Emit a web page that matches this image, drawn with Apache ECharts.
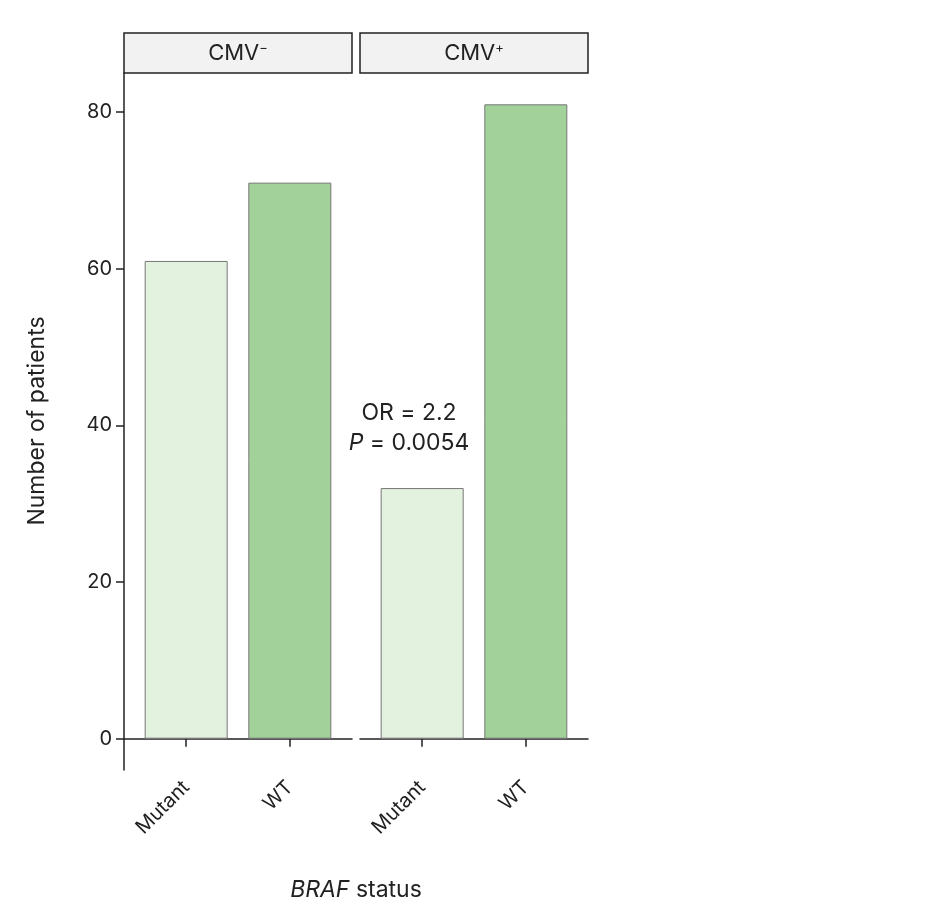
<!DOCTYPE html>
<html><head><meta charset="utf-8">
<script src="https://cdn.jsdelivr.net/npm/echarts@6/dist/echarts.min.js"></script>
<style>html,body{margin:0;background:#fff}#vis{width:925px;height:901px}</style>
</head><body><div id="vis"></div>
<script>
const categories = ["Mutant", "WT"];
const cmvNeg = [61, 71];
const cmvPos = [32, 81];
const yTicks = [0, 20, 40, 60, 80];
const colors = ["#e3f1df", "#a2d29a"];

const chart = echarts.init(document.getElementById("vis"));
const font = "Inter";

function bars(vals, idx) {
  return {
    type: "bar", xAxisIndex: idx, yAxisIndex: idx, barWidth: 83,
    data: vals.map((v, i) => ({ value: [i + 1, v], itemStyle: { color: colors[i] } })),
    itemStyle: { borderColor: "#777", borderWidth: 1 }
  };
}
function xAxis(idx) {
  return {
    type: "value", gridIndex: idx, min: 0.4, max: 2.6,
    axisLine: { show: true, lineStyle: { color: "#222", width: 1.5 } },
    axisTick: { show: true, length: 8, customValues: [1, 2], lineStyle: { color: "#222", width: 1.5 } },
    axisLabel: { customValues: [1, 2], rotate: 45, fontFamily: font, fontSize: 20, color: "#222", margin: 14,
      formatter: v => categories[Math.round(v) - 1] },
    splitLine: { show: false }
  };
}
function yAxis(idx) {
  return {
    type: "value", gridIndex: idx, min: -4, max: 85,
    axisLine: { show: idx === 0, lineStyle: { color: "#222", width: 1.5 } },
    axisTick: { show: idx === 0, length: 8, customValues: yTicks, lineStyle: { color: "#222", width: 1.5 } },
    axisLabel: { show: idx === 0, customValues: yTicks, fontFamily: font, fontSize: 20, color: "#222", margin: 12 },
    splitLine: { show: false }
  };
}
function strip(x, label, sup) {
  return [
    { type: "rect", shape: { x: x, y: 33, width: 228, height: 40 },
      style: { fill: "#f2f2f2", stroke: "#222", lineWidth: 1.5 } },
    { type: "text", x: x + 114, y: 53,
      style: { text: "{a|" + label + "}{s|" + sup + "}", align: "center", verticalAlign: "middle",
        rich: { a: { fontFamily: font, fontSize: 22, fill: "#222" },
                s: { fontFamily: font, fontSize: 13, fill: "#222", verticalAlign: "top", padding: [0, 0, 10, 0] } } } }
  ];
}

chart.setOption({
  animation: false,
  grid: [
    { left: 124, top: 73, width: 228, height: 697 },
    { left: 360, top: 73, width: 228, height: 697 }
  ],
  xAxis: [xAxis(0), xAxis(1)],
  yAxis: [yAxis(0), yAxis(1)],
  series: [bars(cmvNeg, 0), bars(cmvPos, 1)],
  graphic: [
    ...strip(124, "CMV", "−"),
    ...strip(360, "CMV", "+"),
    { type: "text", x: 409, y: 413,
      style: { text: "OR = 2.2", align: "center", verticalAlign: "middle", fontFamily: font, fontSize: 23, fill: "#222" } },
    { type: "text", x: 409, y: 443,
      style: { text: "{i|P} = 0.0054", align: "center", verticalAlign: "middle",
        rich: { i: { fontFamily: font, fontSize: 23, fontStyle: "italic", fill: "#222" } },
        fontFamily: font, fontSize: 23, fill: "#222" } },
    { type: "text", x: 37, y: 421, rotation: Math.PI / 2,
      style: { text: "Number of patients", align: "center", verticalAlign: "middle", fontFamily: font, fontSize: 23, fill: "#222" } },
    { type: "text", x: 356, y: 890,
      style: { text: "{i|BRAF} status", align: "center", verticalAlign: "middle",
        rich: { i: { fontFamily: font, fontSize: 23, fontStyle: "italic", fill: "#222" } },
        fontFamily: font, fontSize: 23, fill: "#222" } }
  ]
});
</script></body></html>
